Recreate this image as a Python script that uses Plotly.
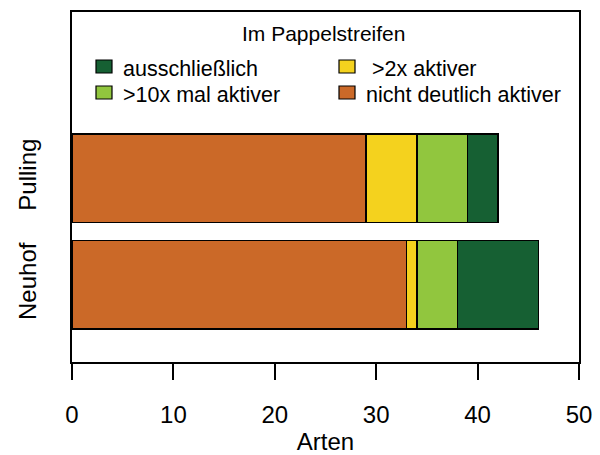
import plotly.graph_objects as go

# Species counts per site, split by activity in the poplar strip
sites = ["Neuhof", "Pulling"]
nicht_deutlich = [33, 29]
mehr_2x = [1, 5]
mehr_10x = [4, 5]
ausschliesslich = [8, 3]

series_names = ["nicht deutlich aktiver", " >2x aktiver", ">10x mal aktiver", "ausschließlich"]
series_values = [nicht_deutlich, mehr_2x, mehr_10x, ausschliesslich]
series_colors = ["#CB6928", "#F4D21E", "#91C63E", "#166033"]

x_ticks = [0, 10, 20, 30, 40, 50]
legend_title = "Im Pappelstreifen"
# legend grid order: row by row, left to right
legend_order = [3, 1, 2, 0]

FONT = "Liberation Sans, Arial, sans-serif"
W, H = 600, 455
ML, MR, MT, MB = 72, 21, 12, 93
PW, PH = W - ML - MR, H - MT - MB

fig = go.Figure()
for name, vals, col in zip(series_names, series_values, series_colors):
    fig.add_trace(go.Bar(
        y=sites, x=vals, name=name, orientation="h",
        marker=dict(color=col, line=dict(color="black", width=1.5)),
        showlegend=False,
    ))


def px(x):
    return (x - ML) / PW


def py(y):
    return (MT + PH - y) / PH


# Legend drawn inside the plot box: title plus a 2x2 grid of swatches
shapes = []
annotations = [dict(
    text=legend_title, x=px(323.5), y=py(34), xref="paper", yref="paper",
    xanchor="center", yanchor="middle", showarrow=False,
    font=dict(family=FONT, size=21, color="black"),
)]
col_x = [96, 339]
row_y = [66.5, 92.5]
for k, idx in enumerate(legend_order):
    r, c = divmod(k, 2)
    x0 = col_x[c]
    yc = row_y[r]
    shapes.append(dict(
        type="rect", xref="paper", yref="paper",
        x0=px(x0), x1=px(x0 + 16), y0=py(yc + 6.5), y1=py(yc - 6.5),
        fillcolor=series_colors[idx], line=dict(color="black", width=1.2),
    ))
    annotations.append(dict(
        text=series_names[idx].replace(" ", "\u00a0"), x=px(x0 + 25), y=py(yc + 2),
        xref="paper", yref="paper", xanchor="left", yanchor="middle",
        showarrow=False, font=dict(family=FONT, size=21.5, color="black"),
    ))

fig.update_layout(
    width=W, height=H,
    margin=dict(l=ML, r=MR, t=MT, b=MB, pad=0, autoexpand=False),
    barmode="stack", bargap=0.17,
    paper_bgcolor="white", plot_bgcolor="white",
    font=dict(family=FONT, size=24, color="black"),
    shapes=shapes, annotations=annotations,
    xaxis=dict(
        range=[0, 50], tickvals=x_ticks, ticks="outside", ticklen=16,
        tickwidth=1.5, tickcolor="black", showline=True, mirror=True,
        linecolor="black", linewidth=1.5, showgrid=False, zeroline=False,
        ticklabelstandoff=14, automargin=False,
        tickfont=dict(family=FONT, size=24, color="black"),
        title=dict(text="Arten", standoff=7,
                   font=dict(family=FONT, size=24, color="black")),
    ),
    yaxis=dict(
        type="category", categoryorder="array", categoryarray=sites,
        range=[-0.723, 2.559], tickangle=-90, ticks="",
        showline=True, mirror=True, linecolor="black", linewidth=1.5,
        showgrid=False, zeroline=False, ticklabelstandoff=25, automargin=False,
        tickfont=dict(family=FONT, size=24, color="black"),
    ),
)

fig.write_html("out.html")
